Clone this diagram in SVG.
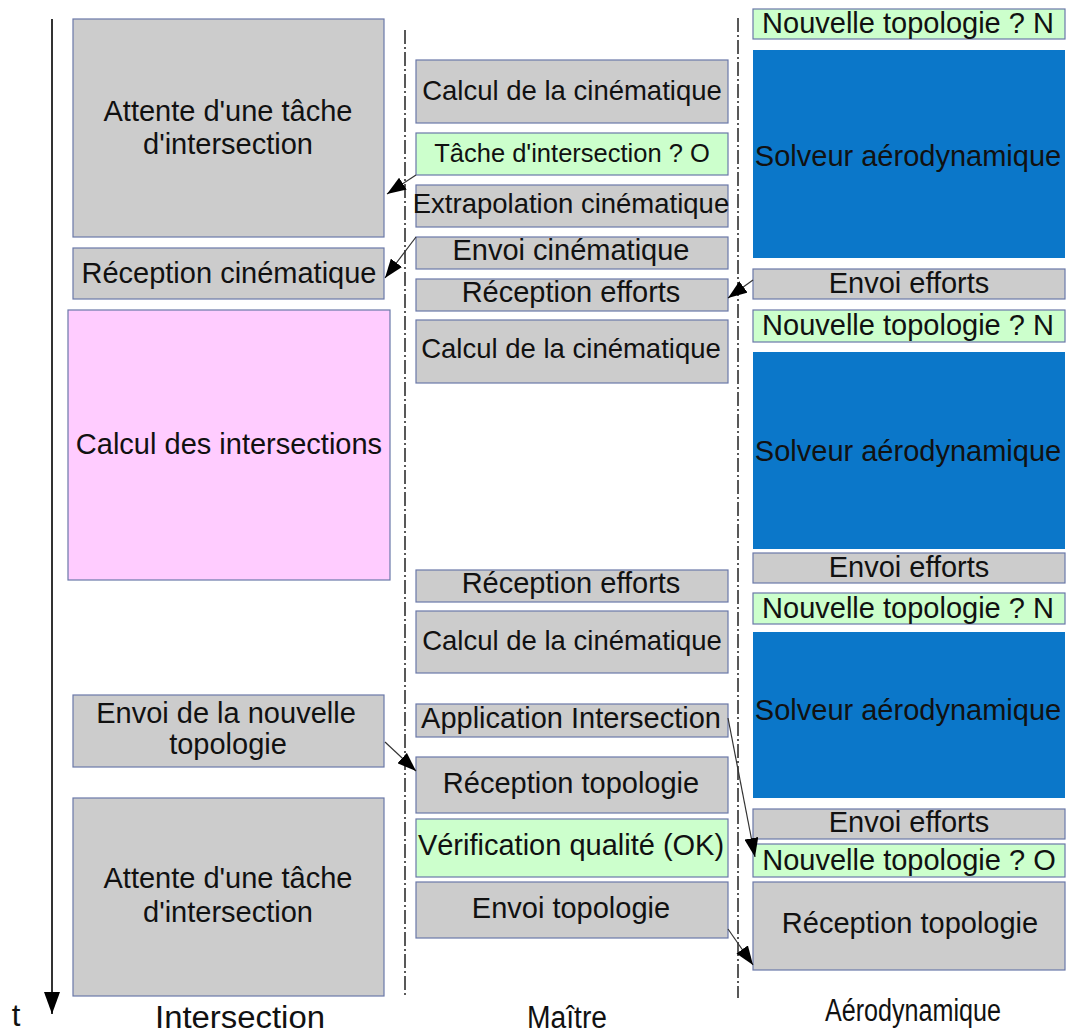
<svg xmlns="http://www.w3.org/2000/svg" width="1067" height="1035" viewBox="0 0 1067 1035">
<style>
  .box{stroke:#6a78a8;stroke-width:1.2}
  .g{fill:#cccccc}
  .gr{fill:#ccffcc}
  .pk{fill:#ffccff}
  .bl{fill:#0b77c9}
  text{font-family:"Liberation Sans",Arial,sans-serif;font-size:29px;fill:#111;text-anchor:middle}
  .lbl{font-family:"Liberation Sans Narrow","Liberation Sans",Arial,sans-serif;font-size:31px}
  .lane{stroke:#222;stroke-width:1.5;stroke-dasharray:14 3 2 3;fill:none}
  .conn{stroke:#333;stroke-width:1.2;fill:none}
</style>
<defs>
  <marker id="ah" markerWidth="19" markerHeight="14" refX="19" refY="7" orient="auto" markerUnits="userSpaceOnUse">
    <path d="M0,0 L19,7 L0,14 Z" fill="#000"/>
  </marker>
  <marker id="tah" markerWidth="16" markerHeight="22" refX="8" refY="22" orient="0" markerUnits="userSpaceOnUse">
    <path d="M0,0 L16,0 L8,22 Z" fill="#000"/>
  </marker>
</defs>
<rect width="1067" height="1035" fill="#fff"/>

<g id="axes">
  <line x1="52" y1="19" x2="52" y2="1014" stroke="#333" stroke-width="2" marker-end="url(#tah)"/>
  <text class="lbl" x="16" y="1026">t</text>
  <line class="lane" x1="405" y1="30" x2="405" y2="996"/>
  <line class="lane" x1="738" y1="18" x2="738" y2="998"/>
  <text class="lbl" x="240" y="1028" textLength="170" lengthAdjust="spacingAndGlyphs">Intersection</text>
  <text class="lbl" x="567" y="1028" textLength="80" lengthAdjust="spacingAndGlyphs">Maître</text>
  <text class="lbl" x="913" y="1021" textLength="176" lengthAdjust="spacingAndGlyphs">Aérodynamique</text>
</g>

<!-- Intersection column -->
<g id="i1"><rect class="box g" x="73" y="19" width="311" height="218"/><text x="228" y="121">Attente d'une tâche</text><text x="228" y="154">d'intersection</text></g>
<g id="i2"><rect class="box g" x="73" y="248" width="311" height="51"/><text x="229" y="283">Réception cinématique</text></g>
<g id="i3"><rect class="box pk" x="68" y="310" width="322" height="270"/><text x="229" y="454">Calcul des intersections</text></g>
<g id="i4"><rect class="box g" x="73" y="695" width="311" height="72"/><text x="226" y="723">Envoi de la nouvelle</text><text x="228" y="754">topologie</text></g>
<g id="i5"><rect class="box g" x="73" y="798" width="311" height="198"/><text x="228" y="888">Attente d'une tâche</text><text x="228" y="922">d'intersection</text></g>

<!-- Master column -->
<g id="m1"><rect class="box g" x="416" y="60" width="312" height="63"/><text x="572" y="100" style="font-size:27.5px">Calcul de la cinématique</text></g>
<g id="m2"><rect class="box gr" x="416" y="133" width="312" height="42"/><text x="572" y="162" style="font-size:25.5px">Tâche d'intersection ? O</text></g>
<g id="m3"><rect class="box g" x="416" y="185" width="312" height="42"/><text x="571" y="213" style="font-size:27.5px">Extrapolation cinématique</text></g>
<g id="m4"><rect class="box g" x="416" y="237" width="312" height="32"/><text x="571" y="260">Envoi cinématique</text></g>
<g id="m5"><rect class="box g" x="416" y="279" width="312" height="32"/><text x="571" y="302">Réception efforts</text></g>
<g id="m6"><rect class="box g" x="416" y="320" width="312" height="63"/><text x="571" y="358" style="font-size:27.5px">Calcul de la cinématique</text></g>
<g id="m7"><rect class="box g" x="416" y="570" width="312" height="32"/><text x="571" y="593">Réception efforts</text></g>
<g id="m8"><rect class="box g" x="416" y="611" width="312" height="62"/><text x="572" y="650" style="font-size:27.5px">Calcul de la cinématique</text></g>
<g id="m9"><rect class="box g" x="416" y="704" width="312" height="33"/><text x="571" y="728">Application Intersection</text></g>
<g id="m10"><rect class="box g" x="416" y="757" width="312" height="56"/><text x="571" y="793">Réception topologie</text></g>
<g id="m11"><rect class="box gr" x="416" y="819" width="312" height="58"/><text x="571" y="855">Vérification qualité (OK)</text></g>
<g id="m12"><rect class="box g" x="416" y="882" width="312" height="56"/><text x="571" y="918">Envoi topologie</text></g>

<!-- Aero column -->
<g id="a1"><rect class="box gr" x="753" y="9" width="312" height="30"/><text x="908" y="33">Nouvelle topologie ? N</text></g>
<g id="a2"><rect class="bl" x="753" y="50" width="312" height="208"/><text x="908" y="166">Solveur aérodynamique</text></g>
<g id="a3"><rect class="box g" x="753" y="269" width="312" height="30"/><text x="909" y="293">Envoi efforts</text></g>
<g id="a4"><rect class="box gr" x="753" y="310" width="312" height="32"/><text x="908" y="335">Nouvelle topologie ? N</text></g>
<g id="a5"><rect class="bl" x="753" y="352" width="312" height="197"/><text x="908" y="461">Solveur aérodynamique</text></g>
<g id="a6"><rect class="box g" x="753" y="553" width="312" height="30"/><text x="909" y="577">Envoi efforts</text></g>
<g id="a7"><rect class="box gr" x="753" y="593" width="312" height="31"/><text x="908" y="618">Nouvelle topologie ? N</text></g>
<g id="a8"><rect class="bl" x="753" y="632" width="312" height="166"/><text x="908" y="720">Solveur aérodynamique</text></g>
<g id="a9"><rect class="box g" x="753" y="809" width="312" height="30"/><text x="909" y="832">Envoi efforts</text></g>
<g id="a10"><rect class="box gr" x="753" y="844" width="312" height="33"/><text x="909" y="870">Nouvelle topologie ? O</text></g>
<g id="a11"><rect class="box g" x="753" y="882" width="312" height="88"/><text x="910" y="933">Réception topologie</text></g>

<g id="connectors">
  <line class="conn" x1="416" y1="175" x2="387" y2="194" marker-end="url(#ah)"/>
  <line class="conn" x1="416" y1="237" x2="385" y2="278" marker-end="url(#ah)"/>
  <line class="conn" x1="753" y1="280" x2="728" y2="298" marker-end="url(#ah)"/>
  <line class="conn" x1="385" y1="742" x2="416" y2="771" marker-end="url(#ah)"/>
  <line class="conn" x1="728" y1="718" x2="755" y2="857" marker-end="url(#ah)"/>
  <line class="conn" x1="728" y1="929" x2="753" y2="965" marker-end="url(#ah)"/>
</g>
</svg>
